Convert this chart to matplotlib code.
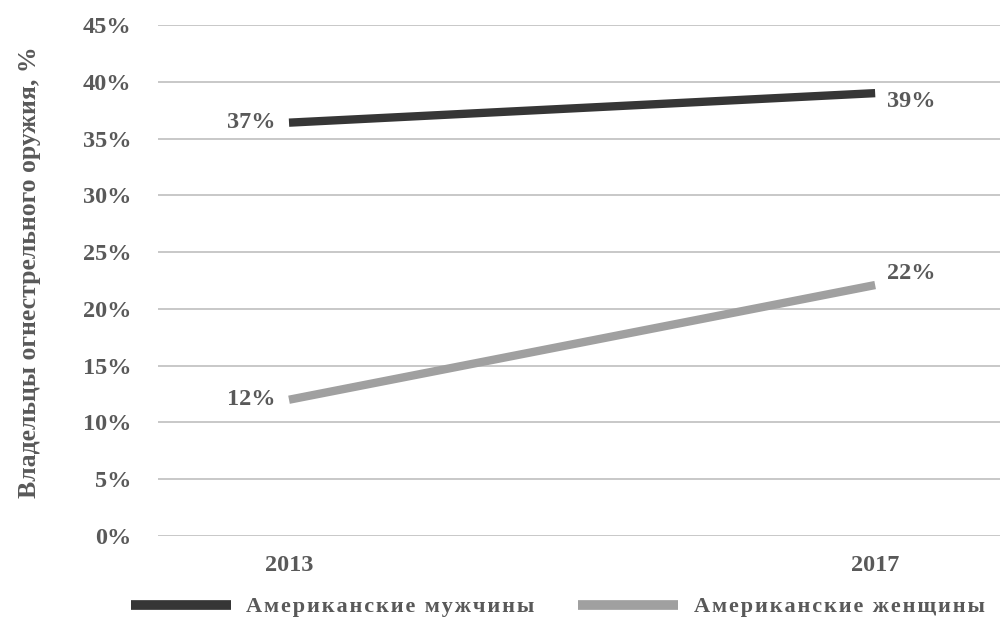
import matplotlib
matplotlib.use("Agg")
import matplotlib.pyplot as plt
from matplotlib.ticker import FuncFormatter

years = ["2013", "2017"]
men = [36.4, 39.0]
women = [12.0, 22.1]
men_labels = ["37%", "39%"]
women_labels = ["12%", "22%"]
series_names = ["Американские мужчины", "Американские женщины"]
y_ticks = [0, 5, 10, 15, 20, 25, 30, 35, 40, 45]

plt.rcParams['font.family'] = ['Liberation Serif', 'DejaVu Serif']
txt = '#595959'
HS = '\u200a'

def spaced(s):
    return HS.join(list(s))

fig = plt.figure(figsize=(10, 6.17), dpi=100)
ax = fig.add_axes([0.158, 1 - 536/617, 0.842, (536-25)/617])

x = [0, 1]
ax.plot(x, men, color='#363636', lw=6.0, solid_capstyle='butt', label=spaced(series_names[0]), zorder=3)
ax.plot(x, women, color='#a0a0a0', lw=6.0, solid_capstyle='butt', label=spaced(series_names[1]), zorder=3)

ax.set_xlim(-0.2235, 1.213)
ax.set_ylim(0, 45)
ax.set_yticks(y_ticks)
ax.yaxis.set_major_formatter(FuncFormatter(lambda v, p: f"{int(v)}%"))
ax.set_xticks(x)
ax.set_xticklabels(years)
ax.grid(axis='y', color='#c4c4c4', lw=1.3)
ax.set_axisbelow(True)
for s in ax.spines.values():
    s.set_visible(False)
ax.tick_params(length=0, labelsize=17.5, colors=txt)
ax.tick_params(axis='y', pad=19)
ax.tick_params(axis='x', pad=14)
for lab in ax.get_xticklabels() + ax.get_yticklabels():
    lab.set_fontweight('bold')

fs = 17.5
ax.annotate(men_labels[0], (0, men[0]), xytext=(-14, 0), textcoords='offset pixels',
            ha='right', va='center', fontsize=fs, fontweight='bold', color=txt)
ax.annotate(women_labels[0], (0, women[0]), xytext=(-14, 0), textcoords='offset pixels',
            ha='right', va='center', fontsize=fs, fontweight='bold', color=txt)
ax.annotate(men_labels[1], (1, men[1]), xytext=(12, -8), textcoords='offset pixels',
            ha='left', va='center', fontsize=fs, fontweight='bold', color=txt)
ax.annotate(women_labels[1], (1, women[1]), xytext=(12, 12), textcoords='offset pixels',
            ha='left', va='center', fontsize=fs, fontweight='bold', color=txt)

fig.text(0.03, 1 - 272/617, "Владельцы огнестрельного оружия, %", rotation=90,
         ha='center', va='center', fontsize=18.5, fontweight='bold', color=txt)

leg = fig.legend(loc='center', bbox_to_anchor=(0.5575, 1 - 607/617), ncol=2, frameon=False,
                 handlelength=4.5, handletextpad=0.68, columnspacing=2.0,
                 prop={'size': 16, 'weight': 'bold'})
for t in leg.get_texts():
    t.set_color(txt)
for h in leg.get_lines():
    h.set_linewidth(7)

fig.savefig("out.png", dpi=100, facecolor='white')
